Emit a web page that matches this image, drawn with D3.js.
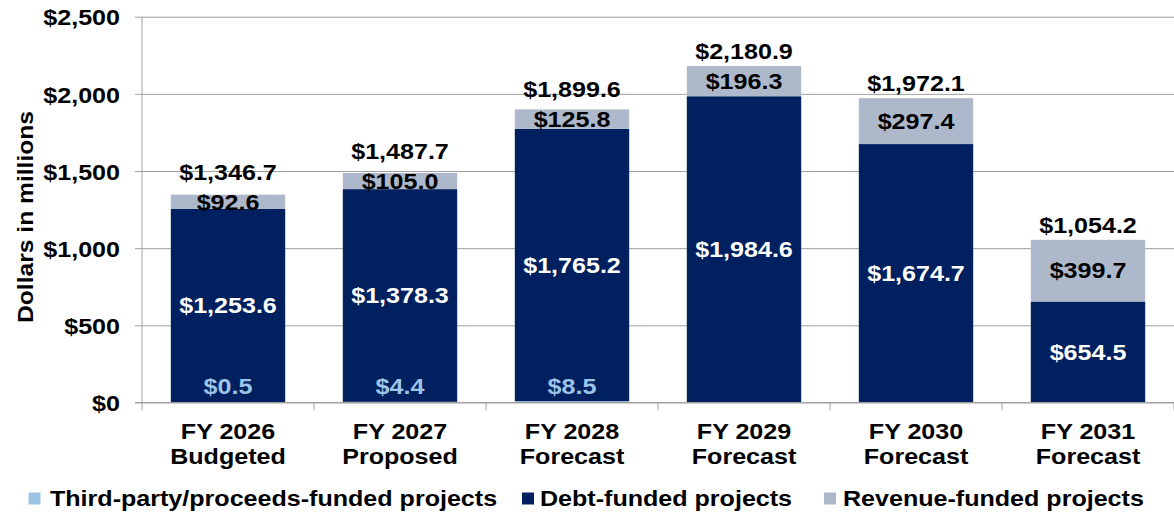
<!DOCTYPE html>
<html>
<head>
<meta charset="utf-8">
<script src="https://cdn.jsdelivr.net/npm/d3@7"></script>
<style>
  body { margin: 0; background: #fff; }
  text { font-family: "Liberation Sans", Arial, sans-serif; font-weight: bold; }
</style>
</head>
<body>
<div id="chart"></div>
<script>
// data
const years = ["FY 2026", "FY 2027", "FY 2028", "FY 2029", "FY 2030", "FY 2031"];
const stages = ["Budgeted", "Proposed", "Forecast", "Forecast", "Forecast", "Forecast"];
const thirdParty = [0.5, 4.4, 8.5, 0, 0, 0];
const debt = [1253.6, 1378.3, 1765.2, 1984.6, 1674.7, 654.5];
const revenue = [92.6, 105.0, 125.8, 196.3, 297.4, 399.7];
const totals = [1346.7, 1487.7, 1899.6, 2180.9, 1972.1, 1054.2];
const yTicks = [0, 500, 1000, 1500, 2000, 2500];
const seriesNames = ["Third-party/proceeds-funded projects", "Debt-funded projects", "Revenue-funded projects"];
const seriesColors = ["#9dc3e6", "#002060", "#adb9ca"];
const labelColors = ["#9dc3e6", "#ffffff", "#000000"];

const W = 1174, H = 513;
const plot = {left: 142, right: 1174, top: 16.7, bottom: 402.5};
const sx = 1.14;   // the source picture is stretched sideways, text too
const fontSize = 22;

const svg = d3.select("#chart")
  .append("svg")
  .attr("width", W)
  .attr("height", H);

const x = d3.scaleBand()
  .domain(years)
  .range([plot.left, plot.right])
  .paddingInner(0.335)
  .paddingOuter(0.1675);

const y = d3.scaleLinear()
  .domain([0, 2500])
  .range([plot.bottom, plot.top]);

// gridlines + y axis
const yAxis = svg.append("g")
  .attr("transform", `translate(${plot.left},0)`)
  .call(d3.axisLeft(y).tickValues(yTicks).tickSize(7)
    .tickFormat(d => "$" + d3.format(",")(d)));
yAxis.select(".domain").remove();
yAxis.selectAll(".tick line").attr("stroke", "#a0a0a0");
yAxis.selectAll(".tick").append("line")
  .attr("x1", 0).attr("x2", plot.right - plot.left)
  .attr("stroke", "#a0a0a0");
yAxis.selectAll(".tick text")
  .attr("x", -19.3)
  .attr("dy", "0.37em")
  .attr("fill", "#000")
  .style("font-size", fontSize + "px")
  .attr("transform", `scale(${sx},1)`);

// stacked bars
const rows = years.map((yr, i) => ({year: yr, vals: [thirdParty[i], debt[i], revenue[i]]}));
const stack = rows.map(r => {
  let base = 0;
  return r.vals.map((v, k) => {
    const seg = {year: r.year, k: k, v: v, y0: base, y1: base + v};
    base += v;
    return seg;
  });
});

svg.append("g")
  .selectAll("rect")
  .data(stack.flat().filter(s => s.v > 0))
  .join("rect")
    .attr("x", d => x(d.year))
    .attr("width", x.bandwidth())
    .attr("y", d => y(d.y1))
    .attr("height", d => y(d.y0) - y(d.y1))
    .attr("fill", d => seriesColors[d.k]);

// axis lines
svg.append("line")
  .attr("x1", plot.left).attr("x2", plot.left)
  .attr("y1", plot.top).attr("y2", plot.bottom)
  .attr("stroke", "#a0a0a0");
svg.append("line")
  .attr("x1", plot.left - 7).attr("x2", plot.right)
  .attr("y1", plot.bottom).attr("y2", plot.bottom)
  .attr("stroke", "#a0a0a0");
const step = x.step();
svg.append("g")
  .selectAll("line")
  .data(d3.range(years.length + 1))
  .join("line")
    .attr("x1", i => plot.left + i * step).attr("x2", i => plot.left + i * step)
    .attr("y1", plot.bottom).attr("y2", plot.bottom + 8)
    .attr("stroke", "#a0a0a0");

// helper: stretched text centred at (cx, baseline)
function label(g, cx, by, str, fill) {
  return g.append("text")
    .attr("transform", `translate(${cx},${by}) scale(${sx},1)`)
    .attr("text-anchor", "middle")
    .attr("fill", fill)
    .style("font-size", fontSize + "px")
    .text(str);
}
const money = d => "$" + d3.format(",.1f")(d);

// category labels
const xl = svg.append("g");
years.forEach((yr, i) => {
  const cx = x(yr) + x.bandwidth() / 2;
  label(xl, cx, 439, yr, "#000");
  label(xl, cx, 464, stages[i], "#000");
});

// data labels
const dl = svg.append("g");
stack.forEach((segs, i) => {
  const cx = x(years[i]) + x.bandwidth() / 2;
  const [tp, db, rv] = segs;
  if (tp.v > 0) label(dl, cx, plot.bottom - 9, money(tp.v), labelColors[0]);
  const dbMid = y((db.y0 + db.y1) / 2);
  label(dl, cx, dbMid + 7.7, money(db.v), labelColors[1]);
  const rvMid = y((rv.y0 + rv.y1) / 2);
  label(dl, cx, rvMid + 7.7, money(rv.v), labelColors[2]);
  const top = y(rv.y1);
  label(dl, cx, Math.min(top - 7, rvMid - 22), money(totals[i]), "#000");
});

// y title
svg.append("text")
  .attr("transform", `translate(33,217) rotate(-90) scale(1,${sx})`)
  .attr("text-anchor", "middle")
  .attr("textLength", 212)
  .attr("lengthAdjust", "spacingAndGlyphs")
  .style("font-size", "20px")
  .attr("fill", "#000")
  .text("Dollars in millions");

// legend
const legendSquareX = [28.5, 522, 824];
const legendTextX = [50, 540, 843];
const lg = svg.append("g");
seriesNames.forEach((name, k) => {
  lg.append("rect")
    .attr("x", legendSquareX[k]).attr("y", 492.5)
    .attr("width", 12).attr("height", 12)
    .attr("fill", seriesColors[k]);
  lg.append("text")
    .attr("transform", `translate(${legendTextX[k]},506) scale(${sx},1)`)
    .attr("fill", "#000")
    .style("font-size", fontSize + "px")
    .text(name);
});
</script>
</body>
</html>
